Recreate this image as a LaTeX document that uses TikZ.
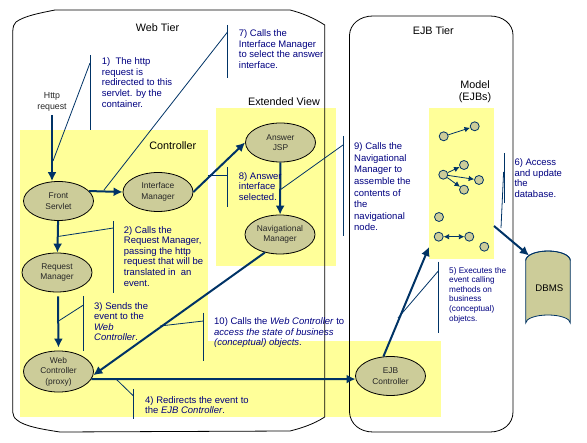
\documentclass[tikz,border=0pt]{standalone}
\usepackage{fontspec}
\setmainfont{Liberation Sans}
\usetikzlibrary{shapes.geometric,arrows.meta}
\definecolor{hiyellow}{HTML}{FFFF99}
\definecolor{khakinode}{HTML}{CCCC99}
\definecolor{linkblue}{HTML}{003366}
\definecolor{notenavy}{HTML}{000080}
\tikzset{
  zone/.style={fill=hiyellow,draw=none},
  tier/.style={draw=black,line width=0.8pt},
  comp/.style={shape=ellipse,draw=black,fill=khakinode,line width=0.8pt,inner sep=0pt,minimum width=70pt,minimum height=39pt,align=center,font=\fontsize{8.4}{10.6}\selectfont,text=black!85},
  ejbdot/.style={shape=circle,draw=linkblue,fill=khakinode,line width=0.8pt,inner sep=0pt,minimum size=9pt},
  bigarrow/.style={draw=linkblue,line width=2pt,-{Latex[length=9pt,width=9pt]}},
  smallarrow/.style={draw=linkblue,line width=0.8pt,-{Latex[length=5.5pt,width=5.5pt]}},
  callout/.style={draw=linkblue,line width=0.8pt},
  note/.style={anchor=north west,inner sep=0pt,align=left,text=notenavy,font=\fontsize{9.5}{10.6}\selectfont,execute at begin node={\rule{0pt}{7pt}}},
  notesmall/.style={note,font=\fontsize{8.2}{9.6}\selectfont},
  notewide/.style={note,font=\fontsize{9.5}{11.6}\selectfont},
  heading/.style={inner sep=0pt,align=center,text=black,font=\fontsize{10.8}{12}\selectfont},
}
\begin{document}
\begin{tikzpicture}[x=1pt,y=-1pt]
\useasboundingbox (0,0) rectangle (587,443);
% zones
\fill[zone] (20,130) rectangle (208,342);
\fill[zone] (20,341) rectangle (441,417);
\fill[zone] (216,108) rectangle (336,266);
\fill[zone] (429,108) rectangle (494,259);
% tiers
\draw[tier] (12.7,412) -- (12.7,32) .. controls (13,26) and (14,24) .. (16,22) .. controls (24,16) and (40,13) .. (55,10) -- (290,10) .. controls (302,13) and (314,18) .. (324.7,25) -- (324.7,417) .. controls (314,424) and (302,428) .. (290,431) -- (60,432) .. controls (40,429) and (24,426) .. (17,420) .. controls (14,418) and (13,415) .. (12.7,412) -- cycle;
\draw[tier] (349.5,412) -- (349.5,35) .. controls (350,24) and (360,16) .. (373,16) -- (490,16) .. controls (503,16) and (513,24) .. (513,35) -- (513,412) .. controls (513,424) and (503,432) .. (490,432) -- (373,432) .. controls (360,432) and (350,424) .. (349.5,412) -- cycle;
% headings
\node[heading] (webtier) at (157.5,27.5) {Web Tier};
\node[heading] (ejbtier) at (433.3,30.7) {EJB Tier};
\node[heading] (controllerlab) at (172.8,145.7) {Controller};
\node[heading] (extview) at (284,101.5) {Extended View};
\node[heading] (modellab) at (475,92) {Model\\(EJBs)};
\node[inner sep=0pt,align=center,text=black!85,font=\fontsize{8.8}{10.4}\selectfont] (http) at (52,102) {Http\\request};
% components
\node[comp] (front) at (58.5,201) {Front\\Servlet};
\node[comp] (iface) at (158,192) {Interface\\Manager};
\node[comp] (answer) at (280.5,142.5) {Answer\\JSP};
\node[comp] (nav) at (280,234.5) {Navigational\\Manager};
\node[comp] (reqm) at (57,272.5) {Request\\Manager};
\node[comp] (webc) at (58.5,371.5) {Web\\Controller\\(proxy)};
\node[comp] (ejbc) at (390.5,376) {EJB\\Controller};
% model
\node[ejbdot] (m1) at (443.7,136.3) {};
\node[ejbdot] (m2) at (474.7,126.3) {};
\node[ejbdot] (m3) at (443.3,174.7) {};
\node[ejbdot] (m4) at (464,165) {};
\node[ejbdot] (m5) at (479,180) {};
\node[ejbdot] (m6) at (464,189.7) {};
\node[ejbdot] (m7) at (439,217) {};
\node[ejbdot] (m8) at (438.7,236.7) {};
\node[ejbdot] (m9) at (469.3,236.7) {};
\node[ejbdot] (m10) at (484.3,246.7) {};
\draw[smallarrow] (m1) -- (m2);
\draw[smallarrow] (m3) -- (m4);
\draw[smallarrow] (m3) -- (m5);
\draw[smallarrow] (m3) -- (m6);
\draw[smallarrow,{Latex[length=5.5pt,width=5.5pt]}-{Latex[length=5.5pt,width=5.5pt]}] (m8) -- (m9);
% DBMS
\draw[draw=linkblue,fill=khakinode,line width=0.8pt] (525.7,260.5) -- (525.7,323) arc[start angle=180,end angle=360,x radius=22.3,y radius=8] -- (570.3,260.5) arc[start angle=0,end angle=-180,x radius=22.3,y radius=9.5] -- cycle;
\draw[draw=linkblue,line width=0.8pt] (525.7,260.5) arc[start angle=180,end angle=360,x radius=22.3,y radius=9.5];
\node[inner sep=0pt,text=black,font=\fontsize{9.6}{11}\selectfont] (dbms) at (549.3,288) {DBMS};
\coordinate (dbtop) at (529,255.5);
% callouts
\coordinate (c1a) at (90,55); \coordinate (c1b) at (90,130); \coordinate (c1c) at (90,63); \coordinate (c1d) at (53,161);
\draw[callout] (c1a) -- (c1b); \draw[callout] (c1c) -- (c1d);
\coordinate (c7a) at (227.5,25); \coordinate (c7b) at (227.5,78); \coordinate (c7c) at (227.5,32); \coordinate (c7d) at (104,190);
\draw[callout] (c7a) -- (c7b); \draw[callout] (c7c) -- (c7d);
\coordinate (c8a) at (227.5,167); \coordinate (c8b) at (227.5,207); \coordinate (c8c) at (227.5,175); \coordinate (c8d) at (208,175);
\draw[callout] (c8a) -- (c8b); \draw[callout] (c8c) -- (c8d);
\coordinate (c2a) at (113.3,221); \coordinate (c2b) at (113.3,292.7); \coordinate (c2c) at (113.3,228); \coordinate (c2d) at (58,236.5);
\draw[callout] (c2a) -- (c2b); \draw[callout] (c2c) -- (c2d);
\coordinate (c3a) at (83.5,296); \coordinate (c3b) at (83.5,350.7); \coordinate (c3c) at (83.5,305); \coordinate (c3d) at (57,322);
\draw[callout] (c3a) -- (c3b); \draw[callout] (c3c) -- (c3d);
\coordinate (c4a) at (133.5,389); \coordinate (c4b) at (133.5,418.7); \coordinate (c4c) at (133.5,396); \coordinate (c4d) at (116,379);
\draw[callout] (c4a) -- (c4b); \draw[callout] (c4c) -- (c4d);
\coordinate (c10a) at (203.5,312.7); \coordinate (c10b) at (203.5,360.7); \coordinate (c10c) at (203.5,321); \coordinate (c10d) at (160,326);
\draw[callout] (c10a) -- (c10b); \draw[callout] (c10c) -- (c10d);
\coordinate (c9a) at (343.3,136); \coordinate (c9b) at (343.3,235.7); \coordinate (c9c) at (343,145); \coordinate (c9d) at (280,190);
\draw[callout] (c9a) -- (c9b); \draw[callout] (c9c) -- (c9d);
\coordinate (c5a) at (438.3,261.7); \coordinate (c5b) at (438.3,332.7); \coordinate (c5c) at (438.3,271); \coordinate (c5d) at (398,318);
\draw[callout] (c5a) -- (c5b); \draw[callout] (c5c) -- (c5d);
\coordinate (c6a) at (504.3,153); \coordinate (c6b) at (504.3,203); \coordinate (c6c) at (503.6,172); \coordinate (c6d) at (501,228);
\draw[callout] (c6a) -- (c6b); \draw[callout] (c6c) -- (c6d);
% main connectors
\coordinate (modelin) at (429,247);
\coordinate (modelout) at (494,226);
\draw[bigarrow] (http) ++(0,13) -- (front.north -| http);
\draw[bigarrow] (front.18) -- (iface.west);
\draw[bigarrow] (iface.east) -- (answer.west);
\draw[bigarrow] (answer) -- (nav);
\draw[bigarrow] (front) -- (reqm);
\draw[bigarrow,shorten >=3pt] (reqm.south) ++(1,4) -- (webc.north);
\draw[bigarrow] (nav.-130) -- (webc.-6);
\draw[bigarrow] (webc.-13) -- (ejbc.185);
\draw[bigarrow] (ejbc.110) -- (modelin);
\draw[bigarrow] (modelout) -- (dbtop);
% notes
\node[note] (n1) at (101.7,57.7) {1)\ \ The http\\request is\\redirected to this\\servlet. by the\\container.};
\node[note] (n7) at (238.7,29.7) {7) Calls the\\Interface Manager\\to select the answer\\interface.};
\node[note] (n8) at (238.7,172) {8) Answer\\interface\\selected.};
\node[note] (n2) at (123.7,226) {2) Calls the\\Request Manager,\\passing the http\\request that will be\\translated in\ \ an\\event.};
\node[note] (n3) at (94,302) {3) Sends the\\event to the\\\textit{Web}\\\textit{Controller}.};
\node[note] (n4) at (145,396) {4) Redirects the event to\\the \textit{EJB Controller}.};
\node[note] (n10) at (214,317.7) {10) Calls the \textit{Web Controller} to\\\textit{access the state of business}\\\textit{(conceptual) objects}.};
\node[notewide] (n9) at (354,142.7) {9) Calls the\\Navigational\\Manager to\\assemble the\\contents of\\the\\navigational\\node.};
\node[note] (n6) at (514.3,158.7) {6) Access\\and update\\the\\database.};
\node[notesmall] (n5) at (449,267) {5) Executes the\\event calling\\methods on\\business\\(conceptual)\\objetcs.};
\end{tikzpicture}
\end{document}
